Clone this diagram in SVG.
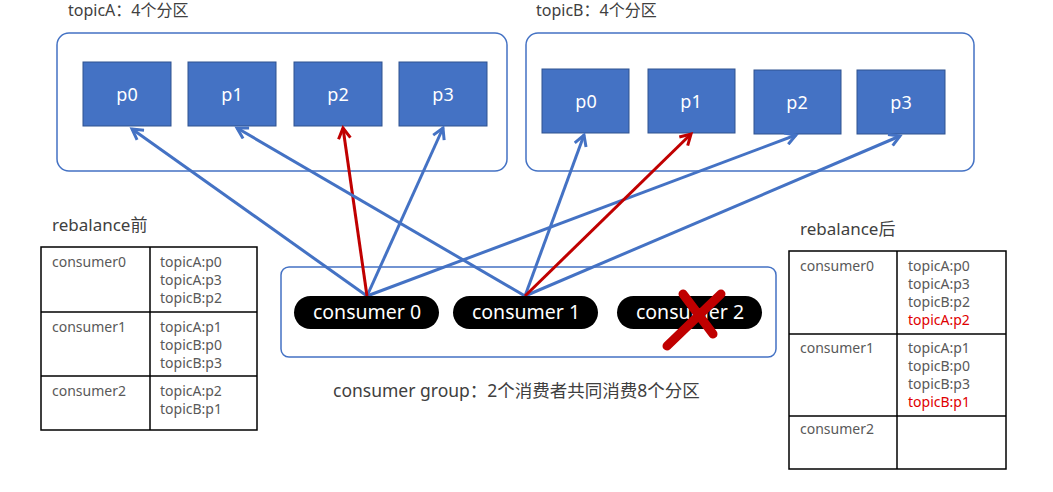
<svg xmlns="http://www.w3.org/2000/svg" width="1053" height="492" viewBox="0 0 1053 492">
<style>
.lbl{font-family:"Noto Sans","Noto Sans CJK SC",sans-serif;fill:#404040;font-size:16px}
.cont{fill:none;stroke:#4472C4;stroke-width:1.5}
.part{fill:#4472C4;stroke:#2F528F;stroke-width:1}
.ptxt{font-family:"Noto Sans",sans-serif;fill:#fff;font-size:18px;text-anchor:middle}
.pill{fill:#000}
.ctxt{font-family:"Noto Sans",sans-serif;fill:#fff;font-size:19.5px;text-anchor:middle}
.tbl{fill:none;stroke:#000;stroke-width:1.5}
.cell{font-family:"Noto Sans",sans-serif;fill:#595959;font-size:14px}
.red{fill:#E00000}
.blue{stroke:#4472C4;stroke-width:3;fill:none;marker-end:url(#ab)}
.redl{stroke:#C00000;stroke-width:3;fill:none;marker-end:url(#ar)}
</style>
<defs>
<marker id="ab" viewBox="0 0 10 10" refX="8" refY="5" markerWidth="5" markerHeight="5" orient="auto" markerUnits="strokeWidth">
<path d="M1,1 L8,5 L1,9" fill="none" stroke="#4472C4" stroke-width="2"/>
</marker>
<marker id="ar" viewBox="0 0 10 10" refX="8" refY="5" markerWidth="5" markerHeight="5" orient="auto" markerUnits="strokeWidth">
<path d="M1,1 L8,5 L1,9" fill="none" stroke="#C00000" stroke-width="2"/>
</marker>
</defs>
<rect width="1053" height="492" fill="#fff"/>

<g id="topicA">
<text class="lbl" x="68" y="16">topicA：4个分区</text>
<rect class="cont" x="57" y="33" width="450" height="138" rx="12"/>
</g>
<g id="topicA-p0"><rect class="part" x="83" y="62" width="88" height="64"/><text class="ptxt" x="127" y="101">p0</text></g>
<g id="topicA-p1"><rect class="part" x="188" y="62" width="88" height="64"/><text class="ptxt" x="232" y="101">p1</text></g>
<g id="topicA-p2"><rect class="part" x="294" y="62" width="88" height="64"/><text class="ptxt" x="338" y="101">p2</text></g>
<g id="topicA-p3"><rect class="part" x="399" y="62" width="88" height="64"/><text class="ptxt" x="443" y="101">p3</text></g>

<g id="topicB">
<text class="lbl" x="536" y="16">topicB：4个分区</text>
<rect class="cont" x="526" y="33" width="448" height="138" rx="12"/>
</g>
<g id="topicB-p0"><rect class="part" x="542" y="69" width="87" height="64"/><text class="ptxt" x="586" y="108">p0</text></g>
<g id="topicB-p1"><rect class="part" x="648" y="69" width="87" height="64"/><text class="ptxt" x="691" y="108">p1</text></g>
<g id="topicB-p2"><rect class="part" x="754" y="70" width="87" height="64"/><text class="ptxt" x="797" y="109">p2</text></g>
<g id="topicB-p3"><rect class="part" x="857" y="70" width="88" height="64"/><text class="ptxt" x="901" y="109">p3</text></g>

<g id="group">
<rect class="cont" x="281" y="267" width="495" height="90" rx="8"/>
<text class="lbl" x="333" y="397" style="font-size:17.5px">consumer group：2个消费者共同消费8个分区</text>
</g>

<g id="connectors">
<line class="blue" x1="367" y1="296" x2="132" y2="129"/>
<line class="blue" x1="367" y1="296" x2="443" y2="128"/>
<line class="blue" x1="367" y1="296" x2="796" y2="135"/>
<line class="redl" x1="367" y1="296" x2="343" y2="128"/>
<line class="blue" x1="525" y1="296" x2="237" y2="128"/>
<line class="blue" x1="525" y1="296" x2="584" y2="135"/>
<line class="blue" x1="525" y1="296" x2="900" y2="136"/>
<line class="redl" x1="525" y1="296" x2="691" y2="134"/>
</g>

<g id="consumer0"><rect class="pill" x="294" y="296" width="145" height="33" rx="16.5"/><text class="ctxt" x="367" y="319">consumer 0</text></g>
<g id="consumer1"><rect class="pill" x="453" y="296" width="145" height="33" rx="16.5"/><text class="ctxt" x="526" y="319">consumer 1</text></g>
<g id="consumer2"><rect class="pill" x="617" y="296" width="145" height="33" rx="16.5"/><text class="ctxt" x="690" y="319">consumer 2</text>
<path d="M667,346 L721,294 M683,294 L713,334" stroke="#C00000" stroke-width="9" stroke-linecap="round" fill="none"/>
</g>

<g id="table-before">
<text class="lbl" x="52" y="231" style="font-size:17px">rebalance前</text>
<rect class="tbl" x="41" y="247" width="216" height="183"/>
<line class="tbl" x1="150" y1="247" x2="150" y2="430"/>
<line class="tbl" x1="41" y1="312" x2="257" y2="312"/>
<line class="tbl" x1="41" y1="376" x2="257" y2="376"/>
<text class="cell" x="52" y="267">consumer0</text>
<text class="cell" x="160" y="267">topicA:p0</text>
<text class="cell" x="160" y="285">topicA:p3</text>
<text class="cell" x="160" y="303">topicB:p2</text>
<text class="cell" x="52" y="332">consumer1</text>
<text class="cell" x="160" y="332">topicA:p1</text>
<text class="cell" x="160" y="350">topicB:p0</text>
<text class="cell" x="160" y="368">topicB:p3</text>
<text class="cell" x="52" y="396">consumer2</text>
<text class="cell" x="160" y="396">topicA:p2</text>
<text class="cell" x="160" y="414">topicB:p1</text>
</g>

<g id="table-after">
<text class="lbl" x="800" y="235" style="font-size:17px">rebalance后</text>
<rect class="tbl" x="789" y="251" width="217" height="218"/>
<line class="tbl" x1="897" y1="251" x2="897" y2="469"/>
<line class="tbl" x1="789" y1="334" x2="1006" y2="334"/>
<line class="tbl" x1="789" y1="416" x2="1006" y2="416"/>
<text class="cell" x="800" y="271">consumer0</text>
<text class="cell" x="908" y="271">topicA:p0</text>
<text class="cell" x="908" y="289">topicA:p3</text>
<text class="cell" x="908" y="307">topicB:p2</text>
<text class="cell red" x="908" y="325">topicA:p2</text>
<text class="cell" x="800" y="353">consumer1</text>
<text class="cell" x="908" y="353">topicA:p1</text>
<text class="cell" x="908" y="371">topicB:p0</text>
<text class="cell" x="908" y="389">topicB:p3</text>
<text class="cell red" x="908" y="407">topicB:p1</text>
<text class="cell" x="800" y="434">consumer2</text>
</g>
</svg>
